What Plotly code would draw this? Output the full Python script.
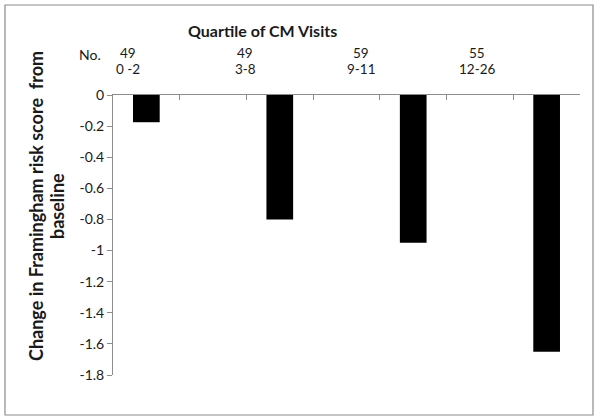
import plotly.graph_objects as go

# Data
categories = ["Q1", " ", "Q2", "  ", "Q3", "   ", "Q4"]
bar_categories = ["Q1", "Q2", "Q3", "Q4"]
counts = [49, 49, 59, 55]
visit_ranges = ["0 -2", "3-8", "9-11", "12-26"]
changes = [-0.175, -0.80, -0.95, -1.65]
y_ticks = [0, -0.2, -0.4, -0.6, -0.8, -1, -1.2, -1.4, -1.6, -1.8]
y_tick_labels = ["0", "-0.2", "-0.4", "-0.6", "-0.8", "-1", "-1.2", "-1.4", "-1.6", "-1.8"]

W, H = 600, 420
L, R, T, B = 113, 20, 95, 45
pw, ph = W - L - R, H - T - B

def px(x):
    return (x - L) / pw

def py(y):
    return (H - B - y) / ph

FONT = "Lato, Calibri, Arial, sans-serif"
TXT = "#1a1a1a"

fig = go.Figure()
fig.add_trace(go.Bar(
    x=bar_categories, y=changes, width=0.4,
    marker=dict(color="black", line=dict(width=0)),
))

fig.update_layout(
    width=W, height=H,
    margin=dict(l=L, r=R, t=T, b=B),
    paper_bgcolor="white", plot_bgcolor="white",
    showlegend=False,
    font=dict(family=FONT, size=14, color=TXT),
    xaxis=dict(
        type="category", categoryorder="array", categoryarray=categories,
        side="top", showticklabels=False, showline=True, linecolor="#8c8c8c",
        linewidth=1, ticks="inside", ticklen=5, tickcolor="#8c8c8c",
        tickson="boundaries", showgrid=False, zeroline=False,
        range=[-0.5, 6.5],
    ),
    yaxis=dict(
        range=[-1.8, 0], tickvals=y_ticks, ticktext=y_tick_labels,
        showline=True, linecolor="#8c8c8c", linewidth=1, ticks="outside",
        ticklen=5, tickcolor="#8c8c8c", showgrid=False, zeroline=False,
        tickfont=dict(size=14, color=TXT),
    ),
)

# Outer border
fig.add_shape(type="rect", xref="paper", yref="paper",
              x0=px(5), x1=px(593), y0=py(415), y1=py(5),
              line=dict(color="#8c8c8c", width=1.2), fillcolor="rgba(0,0,0,0)")

# Title
fig.add_annotation(text="<b>Quartile of CM Visits</b>", xref="paper", yref="paper",
                   x=px(262), y=py(31), showarrow=False,
                   font=dict(size=16, color=TXT), xanchor="center", yanchor="middle")

# Header labels
fig.add_annotation(text="No.", xref="paper", yref="paper", x=px(90), y=py(54),
                   showarrow=False, xanchor="center", yanchor="middle",
                   font=dict(size=14, color=TXT))
label_x = [128, 245, 361, 477]
for xc, n, rng in zip(label_x, counts, visit_ranges):
    fig.add_annotation(text=str(n), xref="paper", yref="paper",
                       x=px(xc), y=py(53), showarrow=False,
                       xanchor="center", yanchor="middle",
                       font=dict(size=13.5, color=TXT))
    fig.add_annotation(text=rng, xref="paper", yref="paper",
                       x=px(xc), y=py(69), showarrow=False,
                       xanchor="center", yanchor="middle",
                       font=dict(size=13.5, color=TXT))

# Y-axis title (two lines)
fig.add_annotation(text="<b>Change in Framingham risk score  from</b>",
                   xref="paper", yref="paper", x=px(36), y=py(206),
                   showarrow=False, textangle=-90, xanchor="center", yanchor="middle",
                   font=dict(size=18, color=TXT))
fig.add_annotation(text="<b>baseline</b>",
                   xref="paper", yref="paper", x=px(57), y=py(206),
                   showarrow=False, textangle=-90, xanchor="center", yanchor="middle",
                   font=dict(size=18, color=TXT))

fig.write_html("out.html", config={"displayModeBar": False},
               post_script="document.body.style.margin='0';")
